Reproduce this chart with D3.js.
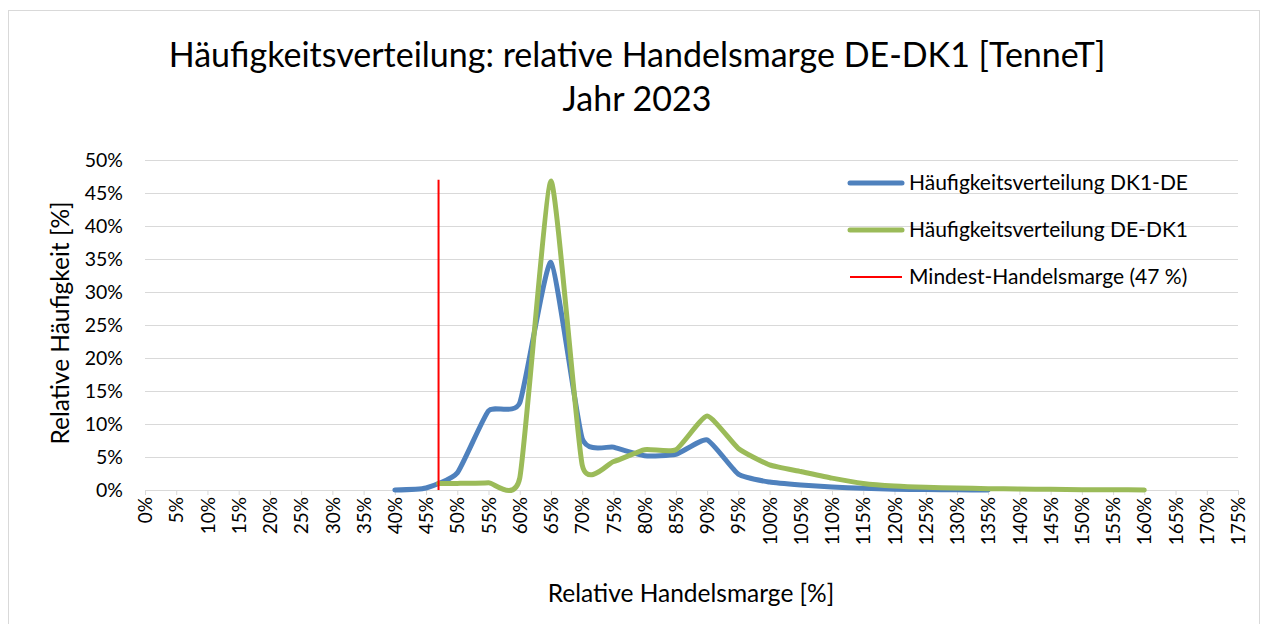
<!DOCTYPE html>
<html>
<meta charset="utf-8">
<style>
  body {
    margin: 0;
    background: #fff;
  }
  text {
    font-family: Lato, "Open Sans", sans-serif;
    fill: #000;
  }
  .grid line {
    stroke: #d9d9d9;
    stroke-width: 1;
  }
  .grid path {
    display: none;
  }
  .xaxis path, .xaxis line {
    stroke: #d9d9d9;
  }
</style>
<body>
<script src="https://cdnjs.cloudflare.com/ajax/libs/d3/7.8.5/d3.min.js"></script>
<script>

// Data (relative margin in %, frequency in %)
var dk1deX = [40, 45, 50, 55, 60, 65, 70, 75, 80, 85, 90, 95, 100, 105, 110, 115, 120, 125, 130, 135];
var dk1deY = [0, 0.3, 2.6, 12.0, 13.2, 34.5, 7.8, 6.5, 5.2, 5.4, 7.6, 2.4, 1.2, 0.75, 0.45, 0.25, 0.12, 0.06, 0.03, 0];

var dedk1X = [47, 50, 55, 60, 65, 70, 75, 80, 85, 90, 95, 100, 105, 110, 115, 120, 125, 130, 135, 140, 145, 150, 155, 160];
var dedk1Y = [1.0, 1.0, 1.1, 1.8, 46.8, 3.8, 4.3, 6.1, 6.1, 11.2, 6.3, 3.8, 2.8, 1.8, 1.0, 0.6, 0.4, 0.3, 0.2, 0.15, 0.1, 0.05, 0.03, 0.01];

var minMarge = 47;
var minMargeTop = 47;

var xTicks = d3.range(0, 176, 5);
var yTicks = d3.range(0, 51, 5);

var seriesNames = ['Häufigkeitsverteilung DK1-DE', 'Häufigkeitsverteilung DE-DK1', 'Mindest-Handelsmarge (47 %)'];
var seriesColors = ['#4f81bd', '#9bbb59', '#ff0000'];

var width = 1268;
var height = 624;

var svg = d3.select('body')
  .append('svg')
  .attr('width', width)
  .attr('height', height);

// chart border
svg.append('rect')
  .attr('x', 8.5)
  .attr('y', 10.5)
  .attr('width', 1251)
  .attr('height', 640)
  .style('fill', 'none')
  .style('stroke', '#d9d9d9');

var x = d3.scaleLinear().domain([0, 175]).range([145, 1238]);
var y = d3.scaleLinear().domain([0, 50]).range([490, 160]);

// horizontal gridlines + y labels
var yAxis = svg.append('g')
  .attr('class', 'grid')
  .attr('transform', 'translate(' + x(0) + ',0)')
  .call(d3.axisLeft(y)
    .tickValues(yTicks)
    .tickSize(-(x(175) - x(0)))
    .tickPadding(22)
    .tickFormat(function(d) { return d + '%'; }));

yAxis.selectAll('text')
  .style('font-size', '19.5px')
  .style('font-family', 'Lato, sans-serif');

// x axis
var xAxis = svg.append('g')
  .attr('class', 'xaxis')
  .attr('transform', 'translate(0,' + y(0) + ')')
  .call(d3.axisBottom(x)
    .tickValues(xTicks)
    .tickSize(5)
    .tickSizeOuter(0)
    .tickFormat(function(d) { return d + '%'; }));

xAxis.selectAll('text')
  .attr('transform', 'rotate(-90)')
  .attr('x', -7)
  .attr('y', 0)
  .attr('dy', '0.35em')
  .style('text-anchor', 'end')
  .style('font-size', '19px')
  .style('font-family', 'Lato, sans-serif');

// series
var line = d3.line()
  .x(function(d) { return x(d[0]); })
  .y(function(d) { return y(d[1]); })
  .curve(d3.curveCardinal.tension(0.5));

var blue = d3.zip(dk1deX, dk1deY);
var green = d3.zip(dedk1X, dedk1Y);

svg.append('path')
  .datum(blue)
  .attr('d', line)
  .style('fill', 'none')
  .style('stroke', seriesColors[0])
  .style('stroke-width', 5)
  .style('stroke-linecap', 'round')
  .style('stroke-linejoin', 'round');

svg.append('path')
  .datum(green)
  .attr('d', line)
  .style('fill', 'none')
  .style('stroke', seriesColors[1])
  .style('stroke-width', 5)
  .style('stroke-linecap', 'round')
  .style('stroke-linejoin', 'round');

svg.append('line')
  .attr('x1', x(minMarge))
  .attr('x2', x(minMarge))
  .attr('y1', y(0))
  .attr('y2', y(minMargeTop))
  .style('stroke', seriesColors[2])
  .style('stroke-width', 2);

// titles
svg.append('text')
  .attr('x', 637)
  .attr('y', 67)
  .style('text-anchor', 'middle')
  .style('font-size', '34px')
  .text('Häufigkeitsverteilung: relative Handelsmarge DE-DK1 [TenneT]');

svg.append('text')
  .attr('x', 637)
  .attr('y', 111)
  .style('text-anchor', 'middle')
  .style('font-size', '34px')
  .text('Jahr 2023');

svg.append('text')
  .attr('transform', 'translate(69,' + 323 + ') rotate(-90)')
  .style('text-anchor', 'middle')
  .style('font-size', '24.5px')
  .text('Relative Häufigkeit [%]');

svg.append('text')
  .attr('x', 691)
  .attr('y', 602)
  .style('text-anchor', 'middle')
  .style('font-size', '24.5px')
  .text('Relative Handelsmarge [%]');

// legend
var legend = svg.append('g')
  .selectAll('g')
  .data(seriesNames)
  .enter()
  .append('g')
  .attr('transform', function(d, i) {
    return 'translate(850,' + (183 + i * 47) + ')';
  });

legend.append('line')
  .attr('x1', 0)
  .attr('x2', 52)
  .style('stroke', function(d, i) { return seriesColors[i]; })
  .style('stroke-width', function(d, i) { return i < 2 ? 5 : 2; })
  .style('stroke-linecap', function(d, i) { return i < 2 ? 'round' : 'butt'; });

legend.append('text')
  .attr('x', 59)
  .attr('y', 0)
  .attr('dy', '0.35em')
  .style('font-size', '21px')
  .text(function(d) { return d; });

</script>
</body>
</html>
